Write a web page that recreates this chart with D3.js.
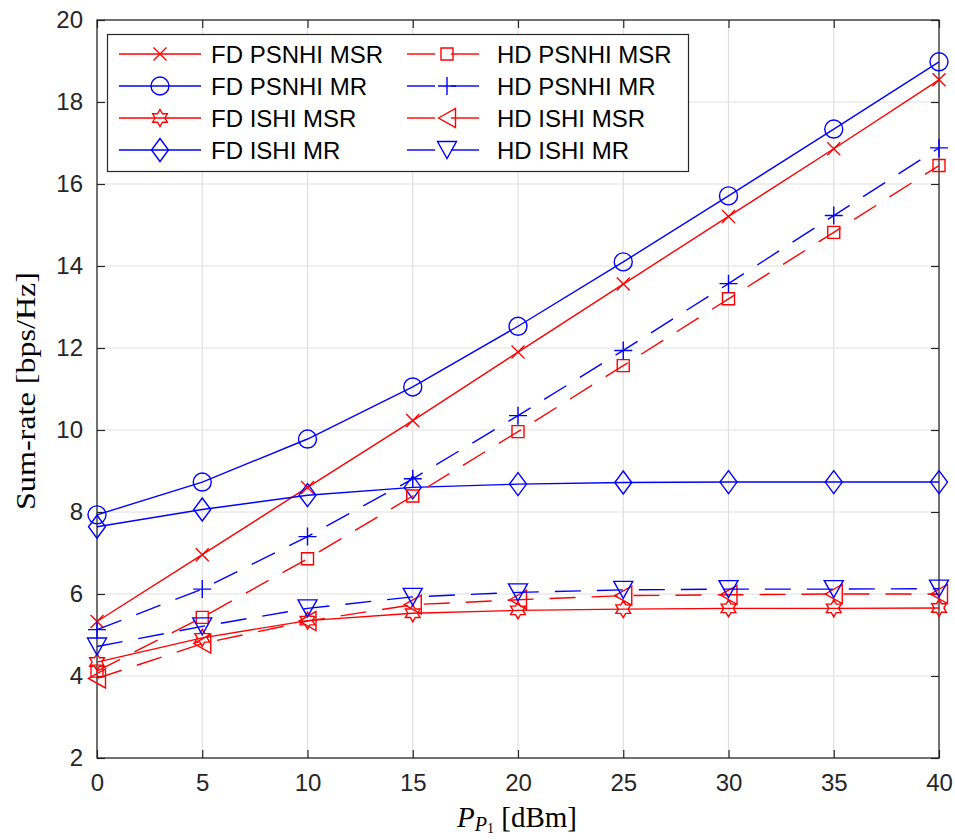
<!DOCTYPE html>
<html>
<head>
<meta charset="utf-8">
<script src="https://cdn.jsdelivr.net/npm/d3@7"></script>
<style>
  html, body { margin: 0; padding: 0; background: #ffffff; }
  svg { display: block; }
</style>
</head>
<body>
<svg id="chart" width="955" height="840"></svg>
<script>
// ---------- data ----------
const xValues = [0, 5, 10, 15, 20, 25, 30, 35, 40];
const xTicks = [0, 5, 10, 15, 20, 25, 30, 35, 40];
const yTicks = [2, 4, 6, 8, 10, 12, 14, 16, 18, 20];

const seriesNames = [
  "FD PSNHI MSR", "FD PSNHI MR", "FD ISHI MSR", "FD ISHI MR",
  "HD PSNHI MSR", "HD PSNHI MR", "HD ISHI MSR", "HD ISHI MR"
];
const fdPsnhiMsr = [5.33, 6.96, 8.60, 10.23, 11.90, 13.56, 15.21, 16.86, 18.54];
const fdPsnhiMr  = [7.93, 8.73, 9.78, 11.05, 12.53, 14.10, 15.71, 17.34, 18.98];
const fdIshiMsr  = [4.34, 4.93, 5.35, 5.53, 5.60, 5.63, 5.65, 5.65, 5.66];
const fdIshiMr   = [7.64, 8.06, 8.41, 8.60, 8.68, 8.72, 8.73, 8.73, 8.73];
const hdPsnhiMsr = [4.12, 5.43, 6.86, 8.39, 9.96, 11.57, 13.20, 14.82, 16.45];
const hdPsnhiMr  = [5.13, 6.12, 7.40, 8.81, 10.35, 11.94, 13.57, 15.23, 16.88];
const hdIshiMsr  = [3.94, 4.79, 5.34, 5.74, 5.86, 5.96, 5.98, 6.00, 6.00];
const hdIshiMr   = [4.72, 5.21, 5.65, 5.93, 6.04, 6.10, 6.12, 6.12, 6.13];

const seriesValues = [fdPsnhiMsr, fdPsnhiMr, fdIshiMsr, fdIshiMr,
                      hdPsnhiMsr, hdPsnhiMr, hdIshiMsr, hdIshiMr];
const seriesColors = ["#ff0000", "#0000ff", "#ff0000", "#0000ff",
                      "#ff0000", "#0000ff", "#ff0000", "#0000ff"];
const seriesDashed = [false, false, false, false, true, true, true, true];
const seriesMarkers = ["x", "circle", "hexagram", "diamond",
                       "square", "plus", "triangleLeft", "triangleDown"];

// ---------- layout ----------
const margin = { left: 97, right: 16, top: 20, bottom: 82 };
const W = 955, H = 840;
const plotW = W - margin.left - margin.right; // 842
const plotH = H - margin.top - margin.bottom; // 738

const svg = d3.select("#chart");
const g = svg.append("g").attr("transform", `translate(${margin.left},${margin.top})`);

const x = d3.scaleLinear().domain([0, 40]).range([0, plotW]);
const y = d3.scaleLinear().domain([2, 20]).range([plotH, 0]);

const axisColor = "#262626";
const gridColor = "#dfdfdf";
const font = "'Liberation Sans', Arial, Helvetica, sans-serif";

// grid
g.append("g").selectAll("line.vg").data(xTicks.slice(1, -1)).join("line")
  .attr("x1", d => x(d)).attr("x2", d => x(d)).attr("y1", 0).attr("y2", plotH)
  .attr("stroke", gridColor).attr("stroke-width", 1.2);
g.append("g").selectAll("line.hg").data(yTicks.slice(1, -1)).join("line")
  .attr("y1", d => y(d)).attr("y2", d => y(d)).attr("x1", 0).attr("x2", plotW)
  .attr("stroke", gridColor).attr("stroke-width", 1.2);

// axes via d3 axes (inward ticks)
const tickLen = 8;
const xAxisB = d3.axisBottom(x).tickValues(xTicks).tickSize(-tickLen).tickPadding(tickLen + 8).tickFormat(d3.format("d"));
const xAxisT = d3.axisTop(x).tickValues(xTicks).tickSize(-tickLen).tickFormat("");
const yAxisL = d3.axisLeft(y).tickValues(yTicks).tickSize(-tickLen).tickPadding(tickLen + 6).tickFormat(d3.format("d"));
const yAxisR = d3.axisRight(y).tickValues(yTicks).tickSize(-tickLen).tickFormat("");

function styleAxis(sel) {
  sel.select(".domain").remove();
  sel.selectAll(".tick line").attr("stroke", axisColor).attr("stroke-width", 1.2);
  sel.selectAll(".tick text").attr("fill", axisColor).style("font-family", font).style("font-size", "24px");
}
const gxB = g.append("g").attr("transform", `translate(0,${plotH})`).call(xAxisB).call(styleAxis);
gxB.selectAll(".tick text").attr("dy", "0.71em");
g.append("g").call(xAxisT).call(styleAxis);
g.append("g").call(yAxisL).call(styleAxis);
g.append("g").attr("transform", `translate(${plotW},0)`).call(yAxisR).call(styleAxis);

// frame
g.append("rect").attr("x", 0).attr("y", 0).attr("width", plotW).attr("height", plotH)
  .attr("fill", "none").attr("stroke", axisColor).attr("stroke-width", 1.3);

// ---------- markers ----------
function markerPath(type) {
  const p = d3.path();
  switch (type) {
    case "x": {
      const s = 6.5;
      p.moveTo(-s, -s); p.lineTo(s, s); p.moveTo(-s, s); p.lineTo(s, -s);
      break;
    }
    case "plus": {
      const s = 9;
      p.moveTo(-s, 0); p.lineTo(s, 0); p.moveTo(0, -s); p.lineTo(0, s);
      break;
    }
    case "circle": {
      const r = 9;
      p.moveTo(r, 0); p.arc(0, 0, r, 0, 2 * Math.PI); p.closePath();
      break;
    }
    case "square": {
      const s = 6;
      p.rect(-s, -s, 2 * s, 2 * s);
      break;
    }
    case "diamond": {
      const w = 8.5, h = 11.5;
      p.moveTo(0, -h); p.lineTo(w, 0); p.lineTo(0, h); p.lineTo(-w, 0); p.closePath();
      break;
    }
    case "triangleDown": {
      const w = 9.5, h = 8.5;
      p.moveTo(-w, -h); p.lineTo(w, -h); p.lineTo(0, h); p.closePath();
      break;
    }
    case "triangleLeft": {
      const w = 8.5, h = 9.5;
      p.moveTo(-w, 0); p.lineTo(w, -h); p.lineTo(w, h); p.closePath();
      break;
    }
    case "hexagram": {
      const R = 8.5, r = R / Math.sqrt(3);
      for (let i = 0; i < 12; i++) {
        const a = -Math.PI / 2 + i * Math.PI / 6;
        const rr = i % 2 === 0 ? R : r;
        const px = rr * Math.cos(a), py = rr * Math.sin(a);
        if (i === 0) p.moveTo(px, py); else p.lineTo(px, py);
      }
      p.closePath();
      break;
    }
  }
  return p.toString();
}

const dashPattern = "26,16";
const lineW = 1.4;

const line = d3.line().x(d => x(d[0])).y(d => y(d[1]));

seriesNames.forEach((name, i) => {
  const pts = xValues.map((xv, j) => [xv, seriesValues[i][j]]);
  g.append("path").datum(pts)
    .attr("d", line)
    .attr("fill", "none")
    .attr("stroke", seriesColors[i])
    .attr("stroke-width", lineW)
    .attr("stroke-dasharray", seriesDashed[i] ? dashPattern : null);
  g.append("g").selectAll("path").data(pts).join("path")
    .attr("transform", d => `translate(${x(d[0])},${y(d[1])})`)
    .attr("d", markerPath(seriesMarkers[i]))
    .attr("fill", "none")
    .attr("stroke", seriesColors[i])
    .attr("stroke-width", lineW);
});

// ---------- legend ----------
const legend = svg.append("g");
legend.append("rect").attr("x", 107.5).attr("y", 34.5).attr("width", 581).attr("height", 137)
  .attr("fill", "#ffffff").attr("stroke", axisColor).attr("stroke-width", 1.2);
const rowY = [54, 86, 118, 150];
const cols = [
  { x1: 119, x2: 201, mx: 160, tx: 211 },
  { x1: 407, x2: 479, mx: 447, tx: 497 }
];
seriesNames.forEach((name, i) => {
  const c = cols[Math.floor(i / 4)];
  const ry = rowY[i % 4];
  if (seriesDashed[i]) {
    legend.append("line").attr("x1", c.x1).attr("x2", c.mx - 12).attr("y1", ry).attr("y2", ry)
      .attr("stroke", seriesColors[i]).attr("stroke-width", lineW);
    legend.append("line").attr("x1", c.mx + 4).attr("x2", c.x2).attr("y1", ry).attr("y2", ry)
      .attr("stroke", seriesColors[i]).attr("stroke-width", lineW);
  } else {
    legend.append("line").attr("x1", c.x1).attr("x2", c.x2).attr("y1", ry).attr("y2", ry)
      .attr("stroke", seriesColors[i]).attr("stroke-width", lineW);
  }
  legend.append("path").attr("transform", `translate(${c.mx},${ry})`)
    .attr("d", markerPath(seriesMarkers[i]))
    .attr("fill", "none").attr("stroke", seriesColors[i]).attr("stroke-width", lineW);
  legend.append("text").attr("x", c.tx).attr("y", ry).attr("dy", "0.36em")
    .style("font-family", font).style("font-size", "24px").attr("fill", "#000")
    .text(name);
});

// ---------- axis labels ----------
const serif = "'Liberation Serif', 'DejaVu Serif', 'Times New Roman', serif";
svg.append("text")
  .attr("transform", `translate(35,${margin.top + plotH / 2 + 2}) rotate(-90)`)
  .attr("text-anchor", "middle")
  .attr("textLength", 238).attr("lengthAdjust", "spacingAndGlyphs")
  .style("font-family", serif).style("font-size", "28px").attr("fill", "#000")
  .text("Sum-rate [bps/Hz]");

const xl = svg.append("text")
  .attr("x", 517).attr("y", 827)
  .attr("text-anchor", "middle")
  .style("font-family", serif).style("font-size", "29px").attr("fill", "#000");
xl.append("tspan").style("font-style", "italic").text("P");
xl.append("tspan").style("font-style", "italic").style("font-size", "20px").attr("dy", 4).text("P");
xl.append("tspan").style("font-size", "14px").attr("dy", 2).text("1");
xl.append("tspan").attr("dy", -6).text(" [dBm]");
</script>
</body>
</html>
